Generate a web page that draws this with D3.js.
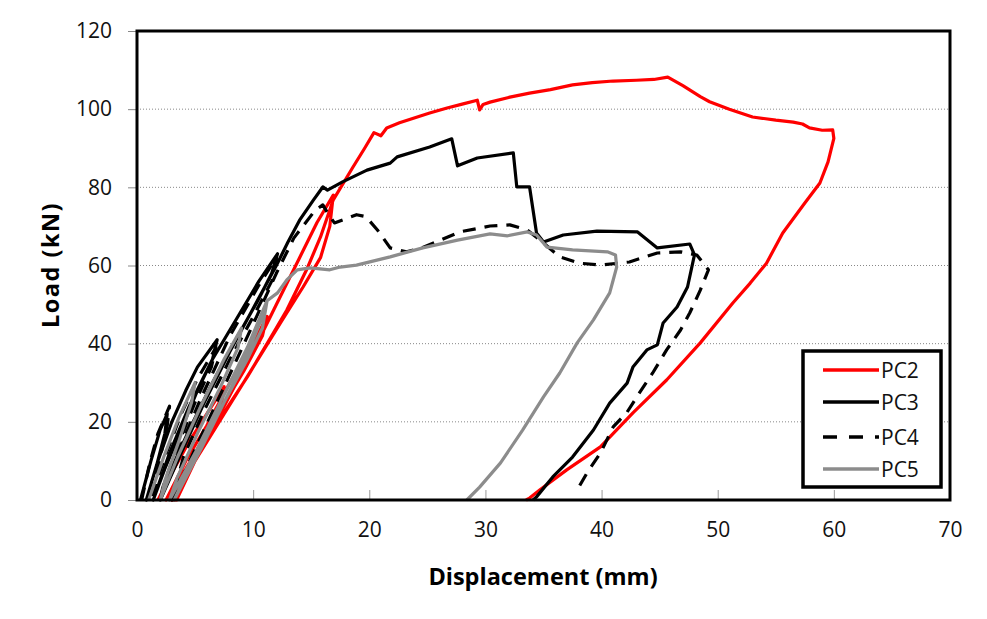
<!DOCTYPE html>
<html><head><meta charset="utf-8">
<script src="https://cdn.jsdelivr.net/npm/d3@7"></script>
<style>body{margin:0;background:#fff}svg{display:block}</style>
</head><body>
<svg id="c" width="987" height="619"></svg>
<script>
const xTicks = [0,10,20,30,40,50,60,70];
const yTicks = [0,20,40,60,80,100,120];
const seriesNames = ["PC2","PC3","PC4","PC5"];

// PC2 (displacement mm, load kN)
const pc2 = [
 [1.8,0],[3,7],[4.5,15],[6,22],[7.5,29],[7.3,25],[6,17],[4.2,8],[2.5,0],
 [2.5,0],[4.2,10],[6,19],[8,30],[10,40],[11.2,47],[10.8,42],[9.2,33],[7,22],[5,11],[3,0],
 [3,0],[5,11],[7.5,24],[10,38],[12,50],[14,62],[15.5,71],[16.9,78],[16.6,70],[15.8,62],[14.3,54.5],[12.5,46],[10,34],[7.5,22],[5,10],[3.4,0],
 [3.1,0],[6.3,17],[9.5,31.5],[11.7,42.5],[12.9,48.6],[14.6,58.9],[15.8,67.3],[16.9,76.8],[18.6,85.2],[19.6,90],[20.4,94],[21.0,93.2],[21.5,95.2],[22.6,96.5],[23.8,97.7],[25.2,99],[26.7,100.3],[28,101.3],[29.3,102.3],[29.5,99.8],[29.8,101.2],[30.4,101.8],[32,103],[33.8,104.1],[35.6,105],[37.5,106.2],[39.2,106.8],[41.0,107.2],[43,107.4],[44.5,107.6],[45.7,108.2],[47,106],[48.5,103.2],[49.3,101.9],[51,100],[53,98.0],[55,97.2],[56.5,96.7],[57.3,96.2],[57.9,95.2],[59,94.6],[59.9,94.7],[60.0,92.5],[59.5,86.5],[58.8,81.1],[57.5,76],[55.6,68.3],[54.2,60.6],[52.8,55.5],[51.3,50.4],[48.5,40.2],[45.6,30.7],[42.7,22.3],[39.9,13.6],[37.0,7.7],[34.7,2.6],[33.8,0.5],[33.5,0]
];
// PC3
const pc3 = [
 [0.3,0],[1.2,10],[2.0,18],[2.6,22],[2.4,17],[1.7,9],[1.0,2],[0.8,0],
 [0.8,0],[1.8,10],[3,20],[4.2,28],[5.2,34],[6.9,41],[6.5,36],[5.2,28],[3.8,18],[2.4,8],[1.4,0],
 [1.4,0],[2.8,12],[4.5,24],[6.5,36],[8.5,46],[10.5,56],[12.1,63],[11.6,58],[10.4,51],[8.5,41],[6.5,30],[4.5,18],[2.8,7],[2,0],
 [2,0],[3.8,12],[5.8,25],[8,38],[10,49],[12,60],[13,66],[14,71.6],[15.2,76.8],[16.0,80.1],[16.4,79.3],[17.7,81.4],[19.8,84.4],[21.8,86.2],[22.4,87.8],[25.2,90.3],[27.1,92.4],[27.6,85.5],[29.3,87.5],[32.4,88.8],[32.7,80.1],[33.8,80.1],[34.4,68.3],[35.0,66.0],[36.7,67.8],[39.6,68.8],[43.1,68.6],[44.8,64.5],[47.6,65.5],[48.0,62.7],[47.9,61.4],[47.4,54.5],[46.5,49.4],[45.3,45.3],[44.8,39.7],[43.9,38.4],[42.7,34.0],[42.2,29.9],[40.7,24.8],[39.3,17.9],[37.5,11.0],[35.8,5.9],[34.4,0.8],[34.1,0]
];
// PC4
const pc4 = [
 [0.4,0],[1.1,9.5],[1.8,17],[2.8,24],[2.6,19],[2.0,11],[1.4,3],[1.2,0],
 [1.2,0],[2.4,11],[3.8,22],[5.2,31],[6.8,39],[6.4,34],[5.0,25],[3.5,14],[2.2,3],[2,0],
 [2,0],[3.5,12],[5.5,26],[8,42],[10.5,55],[12,62],[11.6,56],[10.2,48],[8,36],[5.8,23],[4,11],[3,0],
 [3,0],[5,13],[7.5,29],[10,45],[12,58],[13.5,67],[15.3,74],[16.0,75.5],[16.5,73],[17.0,70.9],[18.0,72],[18.9,73],[19.7,72.5],[20.7,69.1],[21.8,64.5],[23.2,63.5],[24.5,64.5],[27.8,68.6],[30.4,70.1],[32.1,70.4],[33.6,69.1],[34.7,66.5],[36.4,62.2],[38.1,60.6],[39.9,60.1],[42.4,60.9],[44.8,63.2],[46.8,63.5],[48.2,62.7],[49.2,58.9],[48.5,53.7],[47.6,47.9],[46.8,43.5],[45.6,38.4],[44.4,32.5],[43.3,27.6],[42.2,22.5],[41.0,18.7],[39.9,12.0],[38.8,7.2],[37.9,2.6]
];
// PC5
const pc5 = [
 [1.0,0],[2.3,11],[3.6,21],[5.0,30],[4.7,25],[3.6,15],[2.4,5],[2,0],
 [2,0],[3.5,11],[5.5,24],[7.5,36],[9,44],[8.7,39],[7.2,29],[5.2,17],[3.5,6],[2.8,0],
 [2.8,0],[5,12],[7.5,27],[9.5,39],[11.2,51],[10.8,44],[9.5,36],[7.5,25],[5.4,14],[3.2,0],
 [3.2,0],[5.5,13],[8,28],[10,41],[10.8,47],[11.2,51],[12.1,53],[12.9,56.3],[13.8,58.9],[14.9,59.4],[16.6,58.9],[17.5,59.6],[18.9,60.1],[21.8,62.2],[24.6,64.5],[27.6,66.5],[30.4,68.1],[31.9,67.6],[33.6,68.6],[34.4,67.8],[35.3,64.7],[37.5,64.0],[40.5,63.5],[41.2,62.7],[41.3,59.6],[41.0,56.3],[40.7,53.0],[39.3,46.1],[37.9,40.2],[36.4,32.5],[35.0,26.4],[33.2,17.9],[31.3,9.5],[29.5,3.3],[28.4,0]
];

const svg = d3.select("#c");
const L = 137, R = 950, T = 31, B = 500;
const x = d3.scaleLinear().domain([0,70]).range([L,R]);
const y = d3.scaleLinear().domain([0,120]).range([B,T]);
const font = "'Open Sans', 'Noto Sans', sans-serif";

// gridlines
svg.append("g").selectAll("line").data(yTicks.filter(d=>d>0 && d<120)).join("line")
  .attr("x1",L).attr("x2",R).attr("y1",d=>y(d)).attr("y2",d=>y(d))
  .attr("stroke","#888").attr("stroke-width",1).attr("stroke-dasharray","1,2");

// axes
const yAxis = svg.append("g").attr("transform",`translate(${L},0)`)
  .call(d3.axisLeft(y).tickValues(yTicks).tickSize(9).tickPadding(16));
const xAxis = svg.append("g").attr("transform",`translate(0,${B})`)
  .call(d3.axisBottom(x).tickValues(xTicks).tickSize(-10).tickPadding(22));
[yAxis,xAxis].forEach(a=>{
  a.select(".domain").remove();
  a.selectAll(".tick line").attr("stroke","#888");
  a.selectAll("text").attr("font-family",font).attr("font-size",21).attr("fill","#111");
});
xAxis.selectAll(".tick line").attr("stroke","#999");

// series
const line = d3.line().x(d=>x(d[0])).y(d=>y(d[1]));
const plot = svg.append("g");
const series = [
  {name:"PC2", data:pc2, color:"#ff0000", dash:null},
  {name:"PC3", data:pc3, color:"#000000", dash:null},
  {name:"PC4", data:pc4, color:"#000000", dash:"13,9"},
  {name:"PC5", data:pc5, color:"#8c8c8c", dash:null}
];
series.forEach(s=>{
  plot.append("path").datum(s.data).attr("d",line)
    .attr("fill","none").attr("stroke",s.color).attr("stroke-width",3.2)
    .attr("stroke-linejoin","round")
    .attr("stroke-dasharray",s.dash);
});

// frame
svg.append("rect").attr("x",L).attr("y",T).attr("width",R-L).attr("height",B-T)
  .attr("fill","none").attr("stroke","#000").attr("stroke-width",3);

// legend
const lg = svg.append("g");
lg.append("rect").attr("x",803).attr("y",351).attr("width",138).attr("height",136)
  .attr("fill","#fff").attr("stroke","#000").attr("stroke-width",3.5);
const ly = [370,402,437,469];
series.forEach((s,i)=>{
  lg.append("line").attr("x1",823).attr("x2",879).attr("y1",ly[i]).attr("y2",ly[i])
    .attr("stroke",s.color).attr("stroke-width",3.5).attr("stroke-dasharray",s.dash ? "14,12" : null);
  lg.append("text").attr("x",881).attr("y",ly[i]+8).text(seriesNames[i])
    .attr("font-family",font).attr("font-size",21).attr("fill","#111");
});

// axis titles
svg.append("text").attr("x",543).attr("y",585).attr("text-anchor","middle")
  .attr("font-family",font).attr("font-weight","bold").attr("font-size",23.5).text("Displacement (mm)");
svg.append("text").attr("transform","translate(59,265) rotate(-90)").attr("text-anchor","middle")
  .attr("font-family",font).attr("font-weight","bold").attr("font-size",23.5)
  .attr("letter-spacing",1.5).text("Load (kN)");
</script>
</body></html>
